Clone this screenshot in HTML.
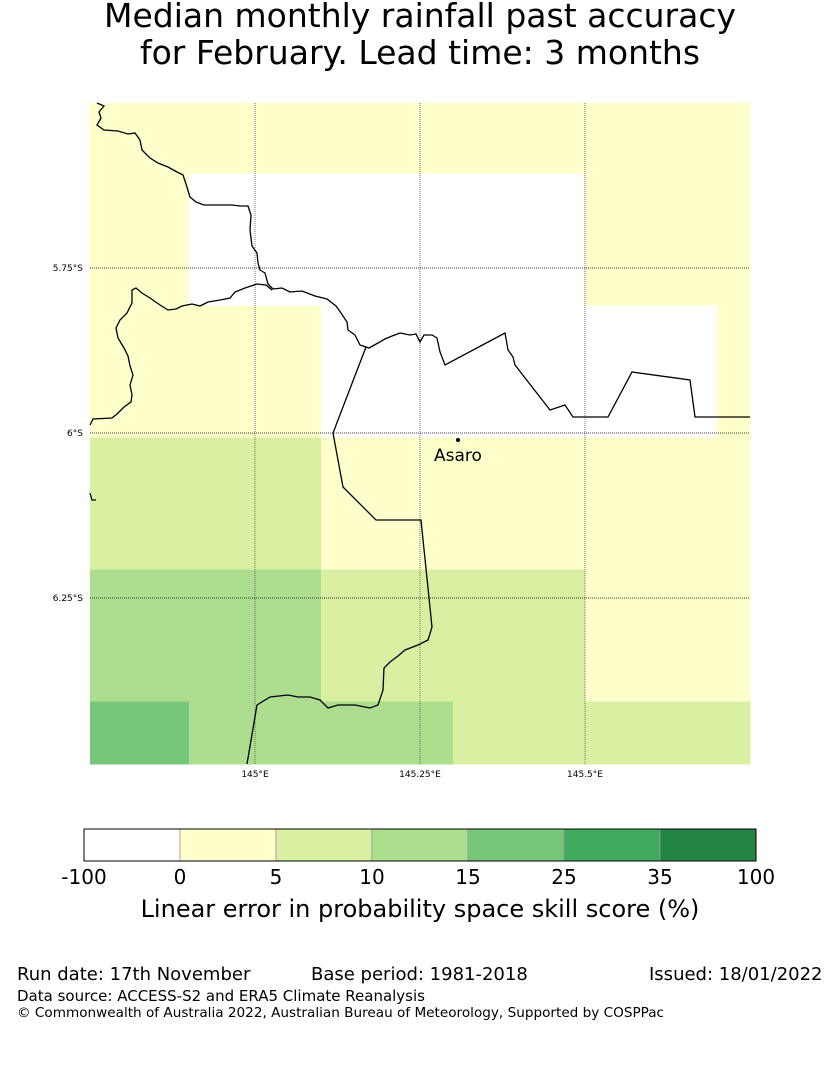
<!DOCTYPE html>
<html><head><meta charset="utf-8">
<style>
body{margin:0;background:#fff;width:840px;height:1065px;overflow:hidden;font-family:"Liberation Sans","DejaVu Sans",sans-serif;}
svg{position:absolute;left:0;top:0}
</style></head>
<body>
<svg id="chart" width="840" height="1065">
<text x="420" y="27" text-anchor="middle" font-size="33" font-family="DejaVu Sans, sans-serif">Median monthly rainfall past accuracy</text>
<text x="420" y="64" text-anchor="middle" font-size="33" font-family="DejaVu Sans, sans-serif">for February. Lead time: 3 months</text>
<g id="cells"></g>
<g id="grid"></g>
<g fill="none" stroke="#000" stroke-width="1.3">
<path d="M97,103 L104,106 L99,112 L101,118 L97,125 L104,130 L118,131 L128,134 L135,133 L140,140 L142,150 L150,158 L158,163 L168,167 L177,172 L183,175 L186,184 L190,197 L196,202 L204,205 L215,205 L225,205 L232,205 L240,206 L248,206 L251,215 L250,230 L252,246 L257,253 L258,263 L260,270 L265,273 L268,284 L273,289 L282,288 L290,292 L302,291 L315,296 L327,299 L336,306 L341,313 L347,322 L348,330 L355,335 L360,345 L369,348 L378,343 L385,339 L392,336 L400,333 L410,335 L416,334 L420,342 L424,335 L432,335 L437,338 L440,352 L445,365 L505,333 L508,350 L513,357 L515,365 L550,410 L565,405 L573,417 L608,417 L632,372 L690,380 L695,417 L750,417"/>
<path d="M272,290 L266,285 L257,284 L245,288 L235,292 L230,298 L220,300 L208,302 L200,306 L192,304 L182,306 L176,309 L168,310 L160,305 L150,298 L142,293 L136,288 L132,290 L132,303 L127,313 L120,320 L116,328 L118,338 L124,348 L128,356 L130,366 L133,375 L130,385 L132,395 L131,402 L124,407 L117,414 L112,418 L93,419 L90,425"/>
<path d="M366,347 L333,433 L343,487 L376,520 L421,520 L432,627 L428,640 L418,645 L405,650 L398,656 L390,662 L384,668 L383,690 L378,705 L370,708 L355,705 L338,705 L328,708 L320,700 L310,697 L298,697 L288,695 L270,697 L257,705 L247,764"/>
<path d="M90,493 L92,500 L96,500"/>
</g>
<circle cx="458" cy="440" r="2" fill="#000"/>
<text x="458" y="461" text-anchor="middle" font-size="17" font-family="DejaVu Sans, sans-serif">Asaro</text>
<g id="cbar"></g>
<text x="420" y="917" text-anchor="middle" font-size="24" font-family="DejaVu Sans, sans-serif">Linear error in probability space skill score (%)</text>
<g font-family="DejaVu Sans, sans-serif">
<text x="17" y="980" font-size="18">Run date: 17th November</text>
<text x="311" y="980" font-size="18">Base period: 1981-2018</text>
<text x="649" y="980" font-size="18">Issued: 18/01/2022</text>
<text x="17" y="1001" font-size="15">Data source: ACCESS-S2 and ERA5 Climate Reanalysis</text>
<text x="17" y="1017" font-size="13.6">© Commonwealth of Australia 2022, Australian Bureau of Meteorology, Supported by COSPPac</text>
</g>
</svg>
<script>
const colors=["#ffffff","#ffffcc","#d9f0a3","#addd8e","#78c679","#41ab5d","#238443"];
const boundaries=["-100","0","5","10","15","25","35","100"];
const lonEdges=[144.7,144.9,145.1,145.3,145.5,145.7,145.9];
const latEdges=[5.407,5.607,5.807,6.007,6.207,6.407,6.607];
// category index per cell (row = lat band from north, col = lon band from west)
const cellRows=[
 [1,1,1,1,1,1],
 [1,0,0,0,1,1],
 [1,1,0,0,0,1],
 [2,2,1,1,1,1],
 [3,3,2,2,1,1],
 [4,3,3,2,2,2]];
const lonTicks=[145.0,145.25,145.5];
const lonLabels=["145°E","145.25°E","145.5°E"];
const latTicks=[5.75,6.0,6.25];
const latLabels=["5.75°S","6°S","6.25°S"];
const ns="http://www.w3.org/2000/svg";
const X0=90,X1=750,Y0=103,Y1=764,ppd=660;
const xs=l=>Math.min(X1,Math.max(X0,(l-145)*ppd+255));
const ys=l=>Math.min(Y1,Math.max(Y0,(l-5.75)*ppd+268));
function mk(t,a,p){const e=document.createElementNS(ns,t);for(const k in a)e.setAttribute(k,a[k]);p.appendChild(e);return e;}
const cg=document.getElementById('cells');
cellRows.forEach((row,i)=>row.forEach((v,j)=>{
 const x0=xs(lonEdges[j]),x1=xs(lonEdges[j+1]);
 const y0=ys(latEdges[i]),y1=ys(latEdges[i+1]);
 const r=mk('rect',{x:x0,y:y0,width:x1-x0+0.5,height:y1-y0+0.5,fill:colors[v]},cg);
 
 
}));
const gg=document.getElementById('grid');
lonTicks.forEach((l,i)=>{
 const x=xs(l);
 const ln=mk('line',{x1:x,x2:x,y1:Y0,y2:Y1,stroke:'#555','stroke-width':0.8,'stroke-dasharray':'1,1'},gg);
 
 
 const t=mk('text',{x:x,y:777,'text-anchor':'middle','font-size':9,'font-family':'DejaVu Sans, sans-serif'},gg);
 t.textContent=lonLabels[i];
 
 
});
latTicks.forEach((l,i)=>{
 const y=ys(l);
 const ln=mk('line',{x1:X0,x2:X1,y1:y,y2:y,stroke:'#000','stroke-width':0.8,'stroke-dasharray':'1,1'},gg);
 
 
 const t=mk('text',{x:83,y:y+3,'text-anchor':'end','font-size':9,'font-family':'DejaVu Sans, sans-serif'},gg);
 t.textContent=latLabels[i];
 
 
});
const cb=document.getElementById('cbar');
const cbx=84,cbw=672,cby=829,cbh=32,sw=cbw/colors.length;
colors.forEach((c,i)=>{
 const r=mk('rect',{x:cbx+i*sw,y:cby,width:sw,height:cbh,fill:c,stroke:'#999','stroke-width':0.8},cb);
 
 
});
mk('rect',{x:cbx,y:cby,width:cbw,height:cbh,fill:'none',stroke:'#000','stroke-width':1},cb);
boundaries.forEach((b,i)=>{
 const t=mk('text',{x:cbx+i*sw,y:884,'text-anchor':'middle','font-size':20,'font-family':'DejaVu Sans, sans-serif'},cb);
 t.textContent=b;
 
 
});
</script>
</body></html>
